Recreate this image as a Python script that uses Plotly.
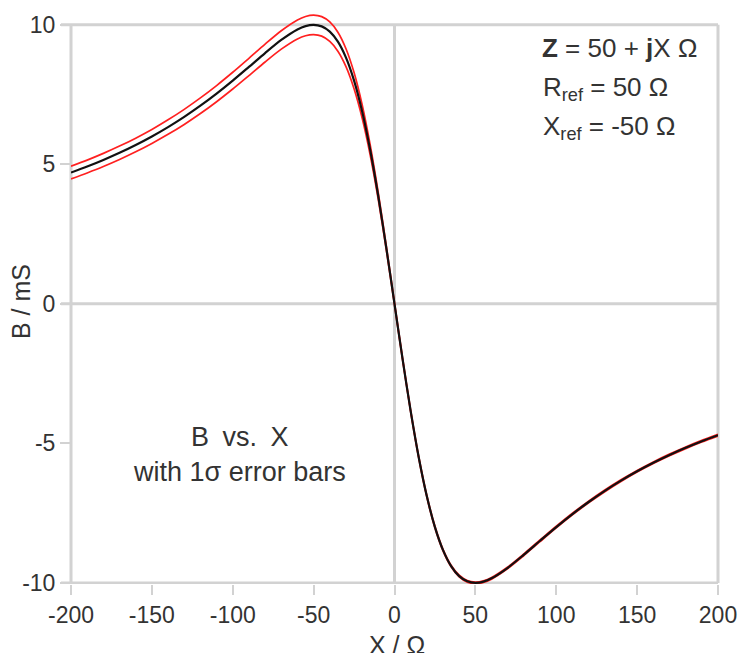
import plotly.graph_objects as go

# Reactance X (ohm)
x_vals = [-200, -190, -180, -170, -160, -150, -140, -130, -120, -110, -100,
          -90, -80, -70, -60, -55, -50, -45, -40, -35, -30, -25, -20, -15, -10, -5,
          0, 5, 10, 15, 20, 25, 30, 35, 40, 45, 50, 55, 60, 70, 80, 90,
          100, 110, 120, 130, 140, 150, 160, 170, 180, 190, 200]

# Susceptance B (mS)
b_vals = [4.706, 4.922, 5.158, 5.414, 5.694, 6.000, 6.335, 6.701, 7.101, 7.534, 8.000,
          8.491, 8.989, 9.459, 9.836, 9.955, 10.000, 9.945, 9.756, 9.396, 8.824, 8.000, 6.897, 5.505, 3.846, 1.980,
          0.0, -1.980, -3.846, -5.505, -6.897, -8.000, -8.824, -9.396, -9.756, -9.945, -10.000, -9.955, -9.836, -9.459, -8.989, -8.491,
          -8.000, -7.534, -7.101, -6.701, -6.335, -6.000, -5.694, -5.414, -5.158, -4.922, -4.706]

# 1-sigma uncertainty of B (mS)
sigma_vals = [0.23, 0.23, 0.235, 0.24, 0.245, 0.25, 0.26, 0.27, 0.28, 0.29, 0.30,
              0.31, 0.32, 0.33, 0.34, 0.345, 0.35, 0.35, 0.35, 0.34, 0.32, 0.29, 0.24, 0.18, 0.12, 0.07,
              0.04, 0.035, 0.03, 0.03, 0.03, 0.03, 0.03, 0.03, 0.03, 0.03, 0.03, 0.03, 0.03, 0.03, 0.03, 0.03,
              0.03, 0.03, 0.03, 0.03, 0.03, 0.03, 0.03, 0.03, 0.03, 0.03, 0.03]

x_ticks = [-200, -150, -100, -50, 0, 50, 100, 150, 200]
y_ticks = [-10, -5, 0, 5, 10]
x_grid = [-200, 0, 200]
y_grid = [-10, 0, 10]

upper = [b + s for b, s in zip(b_vals, sigma_vals)]
lower = [b - s for b, s in zip(b_vals, sigma_vals)]

FONT = "Liberation Sans, Arial, sans-serif"
GRID = "#d2d2d2"
TXT = "#333333"

fig = go.Figure()
for yy in (upper, lower):
    fig.add_trace(go.Scatter(x=x_vals, y=yy, mode="lines",
                             line=dict(color="#ff2020", width=1.7, shape="spline", smoothing=0.8),
                             hoverinfo="skip", showlegend=False))
fig.add_trace(go.Scatter(x=x_vals, y=b_vals, mode="lines",
                         line=dict(color="#111111", width=2.2, shape="spline", smoothing=0.8),
                         showlegend=False))

L, R, T, B = 71, 29, 12, 69
W, H = 747, 653
plot_w, plot_h = W - L - R, H - T - B

fig.update_layout(
    width=W, height=H,
    margin=dict(l=L, r=R, t=T, b=B),
    paper_bgcolor="white", plot_bgcolor="white",
    font=dict(family=FONT, size=23, color=TXT),
    xaxis=dict(range=[-200, 200], tickvals=x_ticks, ticktext=[str(v) for v in x_ticks],
               ticks="outside", ticklen=10, tickwidth=1.5, tickcolor=GRID,
               showgrid=False, zeroline=False, showline=False, automargin=False,
               tickfont=dict(size=23, color=TXT)),
    yaxis=dict(range=[-10.04, 10.46], tickvals=y_ticks, ticktext=[str(v) for v in y_ticks],
               ticks="outside", ticklen=10, tickwidth=1.5, tickcolor=GRID,
               showgrid=False, zeroline=False, showline=False, automargin=False,
               tickfont=dict(size=23, color=TXT)),
)

# grid / frame lines
for gy in y_grid:
    fig.add_shape(type="line", xref="paper", yref="y", x0=-10 / plot_w, x1=1, y0=gy, y1=gy,
                  line=dict(color=GRID, width=3), layer="below")
for gx in x_grid:
    if gx in (-200, 200):
        px = 0 if gx == -200 else 1
        fig.add_shape(type="line", xref="paper", yref="y", x0=px, x1=px, y0=-10, y1=10,
                      line=dict(color=GRID, width=3), layer="below")
    else:
        fig.add_shape(type="line", xref="x", yref="y", x0=gx, x1=gx, y0=-10, y1=10,
                      line=dict(color=GRID, width=3), layer="below")

def px2paper(px, py):
    return (px - L) / plot_w, (H - B - py) / plot_h

ann = [
    ("<b>Z</b> = 50 + <b>j</b>X Ω", 540, 48),
    ("R<sub>ref</sub> = 50 Ω", 541, 88),
    ("X<sub>ref</sub> = -50 Ω", 541, 127),
]
for t, ax_, ay_ in ann:
    xp, yp = px2paper(ax_, ay_)
    fig.add_annotation(text=t, x=xp, y=yp, xref="paper", yref="paper",
                       xanchor="left", yanchor="middle", showarrow=False,
                       font=dict(size=26, color=TXT, family=FONT))

fig.add_annotation(text="B\u2002vs.\u2002X<br>with 1σ error bars", x=-96, y=-5.4, xref="x", yref="y",
                   xanchor="center", yanchor="middle", showarrow=False, align="center",
                   font=dict(size=27, color=TXT, family=FONT))

xp, yp = px2paper(397, 645)
fig.add_annotation(text="X / Ω", x=xp, y=yp, xref="paper", yref="paper",
                   xanchor="center", yanchor="middle", showarrow=False,
                   font=dict(size=25, color=TXT, family=FONT))
xp, yp = px2paper(21, 302)
fig.add_annotation(text="B / mS", x=xp, y=yp, xref="paper", yref="paper", textangle=-90,
                   xanchor="center", yanchor="middle", showarrow=False,
                   font=dict(size=25, color=TXT, family=FONT))

fig.write_html("out.html",
               config={"displayModeBar": False},
               post_script="document.body.style.margin='0';document.body.style.padding='0';"
                           "document.documentElement.style.overflow='hidden';")
